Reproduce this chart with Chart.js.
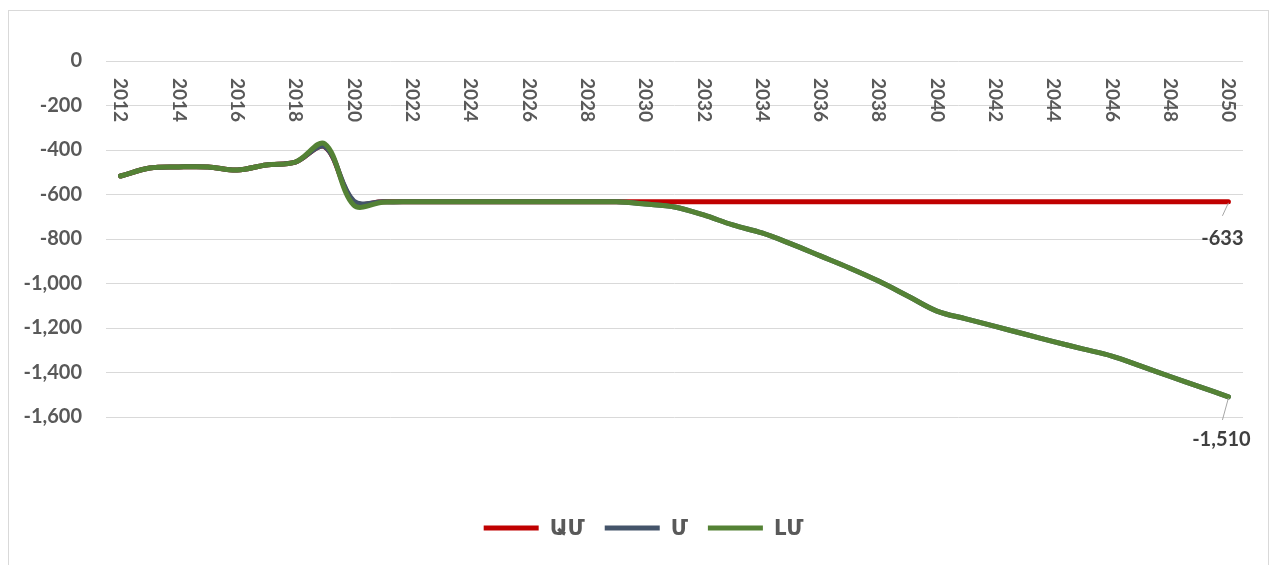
<!DOCTYPE html>
<html>
<head>
<meta charset="utf-8">
<script src="https://cdn.jsdelivr.net/npm/chart.js@4.4.1/dist/chart.umd.min.js"></script>
<style>
  html, body { margin: 0; padding: 0; background: #fff; }
  #wrap { width: 1273px; height: 565px; }
</style>
</head>
<body>
<div id="wrap"><canvas id="chart"></canvas></div>
<script>
const years = [2012, 2013, 2014, 2015, 2016, 2017, 2018, 2019, 2020, 2021,
  2022, 2023, 2024, 2025, 2026, 2027, 2028, 2029, 2030, 2031,
  2032, 2033, 2034, 2035, 2036, 2037, 2038, 2039, 2040, 2041,
  2042, 2043, 2044, 2045, 2046, 2047, 2048, 2049, 2050];

const seriesNames = ["ԱՄ", "Մ", "ԼՄ"];

const amValues = [-517, -481, -476, -476, -490, -467, -454, -385, -633, -633,
  -633, -633, -633, -633, -633, -633, -633, -633, -633, -633,
  -633, -633, -633, -633, -633, -633, -633, -633, -633, -633,
  -633, -633, -633, -633, -633, -633, -633, -633, -633];

const mValues = [-517, -481, -476, -476, -490, -467, -454, -385, -630, -633,
  -633, -633, -633, -633, -633, -633, -633, -633, -643, -656,
  -692, -737, -773, -822, -876, -930, -989, -1056, -1124, -1159,
  -1193, -1227, -1261, -1294, -1326, -1371, -1418, -1463, -1510];

const lmValues = [-517, -481, -476, -476, -490, -467, -454, -372, -648, -635,
  -633, -633, -633, -633, -633, -633, -633, -633, -643, -656,
  -692, -737, -773, -822, -876, -930, -989, -1056, -1124, -1159,
  -1193, -1227, -1261, -1294, -1326, -1371, -1418, -1463, -1510];

const yMin = -1600;
const yMax = 0;
const yStep = 200;

const COLORS = ["#C00000", "#44546A", "#548235"];
const FONT = "Lato, 'DejaVu Sans', sans-serif";
const TEXT_COLOR = "#595959";

// light frame around the chart like the office chart border
const frame = {
  id: "frame",
  beforeDraw(chart) {
    const ctx = chart.ctx;
    ctx.save();
    ctx.strokeStyle = "#d9d9d9";
    ctx.lineWidth = 1;
    ctx.strokeRect(8.5, 10.5, 1260, 600);
    ctx.restore();
  },
};

// the legend in the original sits a bit right of the canvas centre
const legendShift = {
  id: "legendShift",
  afterLayout(chart) {
    if (!chart.legend) return;
    chart.legend.left += 22;
    chart.legend.right += 22;
  },
};

// year labels rotated 90deg, hanging under the zero line
const yearLabels = {
  id: "yearLabels",
  afterDraw(chart) {
    const ctx = chart.ctx;
    const xs = chart.scales.x;
    const top = chart.scales.y.getPixelForValue(0) + 17;
    ctx.save();
    ctx.font = `bold 19px ${FONT}`;
    ctx.fillStyle = TEXT_COLOR;
    ctx.textAlign = "left";
    ctx.textBaseline = "middle";
    years.forEach((year, i) => {
      if (year % 2 !== 0) return;
      ctx.save();
      ctx.translate(xs.getPixelForValue(i), top);
      ctx.rotate(Math.PI / 2);
      ctx.fillText(String(year), 0, 0);
      ctx.restore();
    });
    ctx.restore();
  },
};

// value labels at the end of ԱՄ and ԼՄ with small leader lines
const endLabels = {
  id: "endLabels",
  afterDraw(chart) {
    const ctx = chart.ctx;
    const spots = [
      { ds: 0, lead: 14, dx: -6, dy: 37 },
      { ds: 2, lead: 23, dx: -7, dy: 43 },
    ];
    ctx.save();
    spots.forEach((s) => {
      const meta = chart.getDatasetMeta(s.ds);
      const pt = meta.data[meta.data.length - 1];
      const values = chart.data.datasets[s.ds].data;
      const v = values[values.length - 1];
      ctx.strokeStyle = "#a6a6a6";
      ctx.lineWidth = 1;
      ctx.beginPath();
      ctx.moveTo(pt.x, pt.y + 1);
      ctx.lineTo(pt.x - 6, pt.y + s.lead);
      ctx.stroke();
      ctx.font = `bold 20px ${FONT}`;
      ctx.fillStyle = "#404040";
      ctx.textAlign = "center";
      ctx.textBaseline = "middle";
      ctx.fillText(v.toLocaleString("en-US"), pt.x + s.dx, pt.y + s.dy);
    });
    ctx.restore();
  },
};

const makeSet = (i, data, order) => ({
  label: seriesNames[i],
  data,
  borderColor: COLORS[i],
  backgroundColor: COLORS[i],
  borderWidth: 5,
  borderCapStyle: "round",
  borderJoinStyle: "round",
  pointRadius: 0,
  tension: 0.35,
  order,
});

const ctx = document.getElementById("chart").getContext("2d");
new Chart(ctx, {
  type: "line",
  data: {
    labels: years,
    datasets: [
      makeSet(0, amValues, 3),
      makeSet(1, mValues, 2),
      makeSet(2, lmValues, 1),
    ],
  },
  options: {
    responsive: true,
    maintainAspectRatio: false,
    animation: false,
    layout: {
      padding: { top: 61, right: 30, bottom: 16, left: 0 },
    },
    plugins: {
      tooltip: { enabled: false },
      legend: {
        position: "bottom",
        labels: {
          boxWidth: 55,
          boxHeight: 5,
          padding: 20,
          useBorderRadius: true,
          borderRadius: 2.5,
          color: TEXT_COLOR,
          font: { family: FONT, size: 22, weight: "bold" },
          generateLabels: (chart) =>
            chart.data.datasets.map((ds, i) => ({
              text: ds.label,
              fillStyle: ds.borderColor,
              strokeStyle: ds.borderColor,
              lineWidth: 0,
              fontColor: TEXT_COLOR,
              datasetIndex: i,
              hidden: false,
            })),
        },
      },
    },
    scales: {
      x: {
        type: "category",
        offset: true,
        grid: { display: false },
        border: { display: false },
        ticks: { display: false },
        afterFit: (scale) => {
          scale.height = 80;
        },
      },
      y: {
        min: yMin,
        max: yMax,
        grid: { color: "#d9d9d9", lineWidth: 1, drawTicks: false },
        border: { display: false },
        ticks: {
          stepSize: yStep,
          padding: 24,
          color: TEXT_COLOR,
          font: { family: FONT, size: 20, weight: "bold" },
          callback: (value) => value.toLocaleString("en-US"),
        },
        afterFit: (scale) => {
          scale.width = 106;
        },
      },
    },
  },
  plugins: [frame, legendShift, yearLabels, endLabels],
});
</script>
</body>
</html>
